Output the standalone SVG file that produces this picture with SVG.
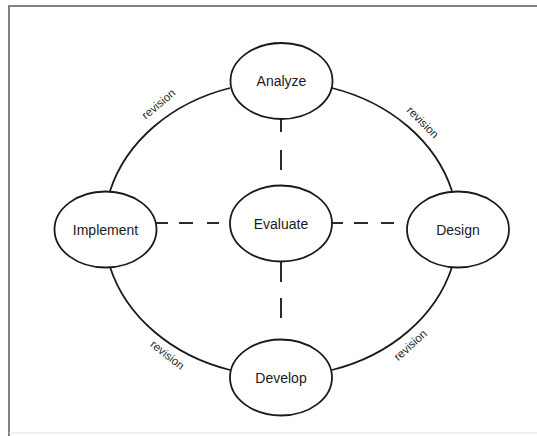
<svg xmlns="http://www.w3.org/2000/svg" width="537" height="436" viewBox="0 0 537 436">
<style>
.node{fill:#fff;stroke:#1a1a1a;stroke-width:1.8}
.arc{fill:none;stroke:#1a1a1a;stroke-width:1.8}
.dash{fill:none;stroke:#2a2a2a;stroke-width:2}
.lbl{font-family:"Liberation Sans",Arial,sans-serif;font-size:14px;fill:#1a1a1a;text-anchor:middle}
.rev{font-family:"Liberation Sans",Arial,sans-serif;font-size:11.5px;fill:#2a2a2a;text-anchor:middle}
</style>
<rect width="537" height="436" fill="#fff"/>
<g id="frame">
<line x1="8" y1="6" x2="537" y2="6" stroke="#808080" stroke-width="2"/>
<line x1="9" y1="5" x2="9" y2="436" stroke="#808080" stroke-width="2"/>
<line x1="9" y1="433" x2="537" y2="433" stroke="#e4e4e4" stroke-width="1"/>
</g>
<g id="connectors">
<path class="arc" d="M230,88 A177,148 0 0 0 110,191"/>
<path class="arc" d="M332,88 A177,148 0 0 1 452,191"/>
<path class="arc" d="M110,267 A177,148 0 0 0 230,370"/>
<path class="arc" d="M332,370 A177,148 0 0 0 452,267"/>
<line class="dash" x1="281" y1="118" x2="281" y2="186" stroke-dasharray="14 18 20 40"/>
<line class="dash" x1="281" y1="262" x2="281" y2="340" stroke-dasharray="20 16 20 40"/>
<line class="dash" x1="156" y1="223" x2="231" y2="223" stroke-dasharray="12 11 14 14 12 30"/>
<line class="dash" x1="331" y1="223" x2="407" y2="223" stroke-dasharray="12 11 14 13 13 30"/>
<text class="rev" transform="translate(161,107) rotate(-40)">revision</text>
<text class="rev" transform="translate(420,125) rotate(45)">revision</text>
<text class="rev" transform="translate(165,358) rotate(38)">revision</text>
<text class="rev" transform="translate(413,348) rotate(-42)">revision</text>
</g>
<g id="analyze"><ellipse class="node" cx="281.5" cy="81" rx="51" ry="38"/><text class="lbl" x="281.5" y="86">Analyze</text></g>
<g id="evaluate"><ellipse class="node" cx="281" cy="223.5" rx="51" ry="38"/><text class="lbl" x="281" y="228.5">Evaluate</text></g>
<g id="implement"><ellipse class="node" cx="105.5" cy="229.5" rx="51" ry="38"/><text class="lbl" x="105.5" y="234.5">Implement</text></g>
<g id="design"><ellipse class="node" cx="458" cy="229.5" rx="51" ry="38"/><text class="lbl" x="458" y="234.5">Design</text></g>
<g id="develop"><ellipse class="node" cx="281" cy="377.5" rx="51" ry="38"/><text class="lbl" x="281" y="382.5">Develop</text></g>
</svg>
